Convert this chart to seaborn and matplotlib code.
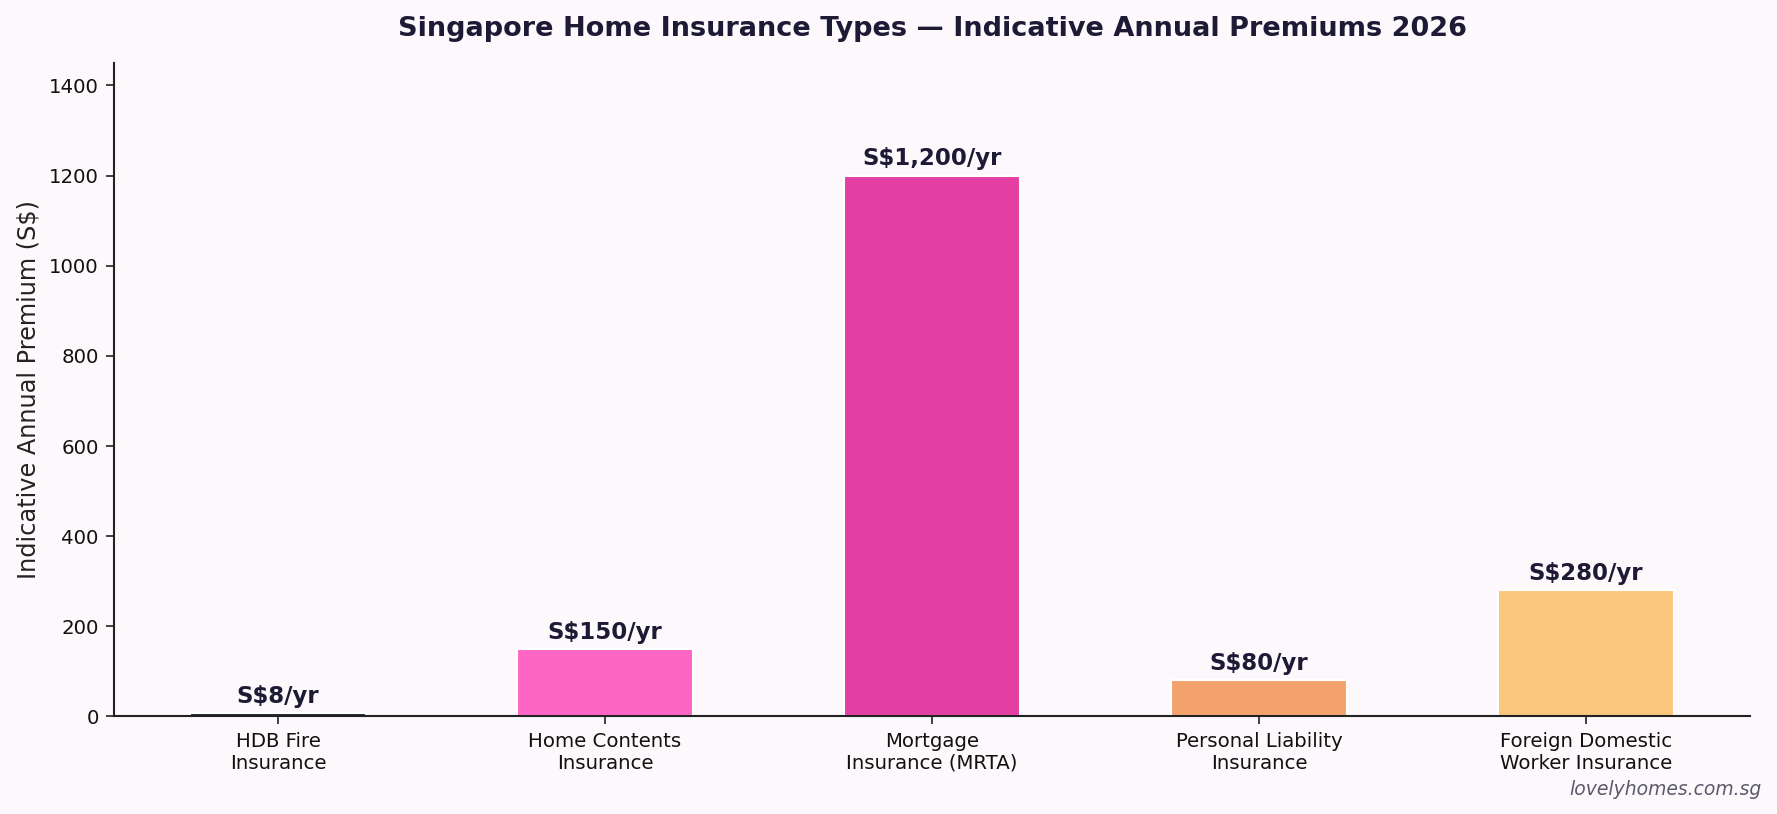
import matplotlib
matplotlib.use("Agg")
import matplotlib.pyplot as plt
import seaborn as sns
import pandas as pd

# ------------------------------
# Data
# ------------------------------
categories = [
    "HDB Fire\nInsurance",
    "Home Contents\nInsurance",
    "Mortgage\nInsurance (MRTA)",
    "Personal Liability\nInsurance",
    "Foreign Domestic\nWorker Insurance",
]
premiums = [8, 150, 1200, 80, 280]
value_labels = ["S$8/yr", "S$150/yr", "S$1,200/yr", "S$80/yr", "S$280/yr"]
colors = ["#1a1a2e", "#ff66c4", "#e33fa3", "#f4a26c", "#fbc77c"]

bg = "#fdf8fb"
ink = "#1c1a35"

sns.set_style("ticks")
plt.rcParams["font.family"] = ["DejaVu Sans"]

df = pd.DataFrame({"type": categories, "premium": premiums})

fig, ax = plt.subplots(figsize=(11.853, 5.427), dpi=150)
fig.patch.set_facecolor(bg)
ax.set_facecolor(bg)
fig.subplots_adjust(left=0.0644, right=0.984, bottom=0.120, top=0.9226)

sns.barplot(data=df, x="type", y="premium", hue="type", palette=colors,
            legend=False, width=0.54, saturation=1, ax=ax)

# value labels above each bar
for i, (v, lab) in enumerate(zip(premiums, value_labels)):
    ax.annotate(lab, (i, v), xytext=(0, 2.5), textcoords="offset points",
                ha="center", va="bottom", fontsize=11, fontweight="bold", color=ink)

ax.set_ylim(0, 1450)
ax.set_xlim(-0.5, 4.5)
ax.set_xlabel("")
ax.set_ylabel("Indicative Annual Premium (S$)", fontsize=11.5, color="#222222")
ax.tick_params(axis="both", labelsize=9.5, colors="#222222", labelcolor="#111111", length=4)
for s in ["left", "bottom"]:
    ax.spines[s].set_color("#222222")
    ax.spines[s].set_linewidth(1.0)
sns.despine(ax=ax)

ax.set_title("Singapore Home Insurance Types \u2014 Indicative Annual Premiums 2026",
             fontsize=13, fontweight="bold", color=ink, pad=13)

fig.text(0.991, 0.030, "lovelyhomes.com.sg", ha="right", va="center",
         fontsize=9, style="italic", color="#5a5a6a")

fig.savefig("out.png", dpi=150, facecolor=bg)
